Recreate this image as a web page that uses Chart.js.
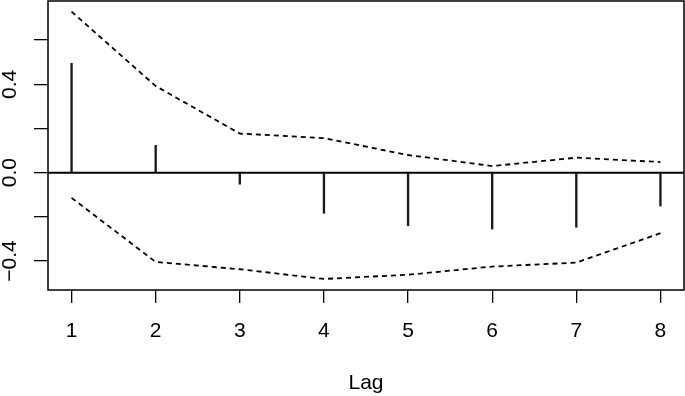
<!DOCTYPE html>
<html>
<head>
<meta charset="utf-8">
<script src="https://cdn.jsdelivr.net/npm/chart.js@4"></script>
<style>
  html, body { margin: 0; padding: 0; background: #fff; }
  canvas { display: block; }
</style>
</head>
<body>
<canvas id="acf" width="685" height="396"></canvas>
<script>
// lags on the x axis
const lags = [1, 2, 3, 4, 5, 6, 7, 8];
// autocorrelation spikes
const acfValues = [0.495, 0.124, -0.052, -0.184, -0.240, -0.255, -0.247, -0.151];
// dashed confidence bounds
const upperBound = [0.729, 0.392, 0.177, 0.156, 0.080, 0.030, 0.068, 0.048];
const lowerBound = [-0.114, -0.404, -0.437, -0.481, -0.462, -0.425, -0.407, -0.274];
// y ticks, only some get a label (like R drops overlapping ones)
const yTicks = [-0.4, -0.2, 0, 0.2, 0.4, 0.6];
const yTickLabels = ['\u22120.4', '', '0.0', '', '0.4', ''];
const xTickLabels = ['1', '2', '3', '4', '5', '6', '7', '8'];
const xTitle = 'Lag';

const FONT = "'Liberation Sans', Arial, sans-serif";
const pts = (arr) => lags.map((l, i) => ({ x: l, y: arr[i] }));

// box, zero line and rotated y labels
const rStyle = {
    id: 'rStyle',
    beforeDatasetsDraw(chart) {
        const { ctx, chartArea: a, scales: { y } } = chart;
        const y0 = y.getPixelForValue(0);
        ctx.save();
        ctx.strokeStyle = '#000';
        ctx.lineWidth = 2;
        ctx.beginPath();
        ctx.moveTo(a.left, y0);
        ctx.lineTo(a.right, y0);
        ctx.stroke();
        ctx.restore();
    },
    afterDraw(chart) {
        const { ctx, chartArea: a, scales: { y } } = chart;
        ctx.save();
        ctx.strokeStyle = '#000';
        ctx.lineWidth = 1.5;
        ctx.strokeRect(a.left, a.top, a.right - a.left, a.bottom - a.top);

        ctx.fillStyle = '#000';
        ctx.font = '21px ' + FONT;
        ctx.textAlign = 'center';
        ctx.textBaseline = 'middle';
        yTicks.forEach((v, i) => {
            if (!yTickLabels[i]) return;
            ctx.save();
            ctx.translate(10, y.getPixelForValue(v));
            ctx.rotate(-Math.PI / 2);
            ctx.fillText(yTickLabels[i], 0, 0);
            ctx.restore();
        });
        ctx.restore();
    }
};

const dashed = {
    type: 'line',
    borderColor: '#000',
    borderWidth: 1.8,
    borderDash: [5, 4],
    pointRadius: 0,
    tension: 0,
    fill: false
};

new Chart(document.getElementById('acf'), {
    data: {
        datasets: [
            Object.assign({ data: pts(upperBound) }, dashed),
            Object.assign({ data: pts(lowerBound) }, dashed),
            {
                type: 'bar',
                data: pts(acfValues),
                backgroundColor: '#1a1a1a',
                barThickness: 1.7,
                borderWidth: 0
            }
        ]
    },
    options: {
        responsive: false,
        animation: false,
        devicePixelRatio: 1,
        layout: { padding: { top: 1, right: 1, left: 0, bottom: 0 } },
        plugins: { legend: { display: false }, tooltip: { enabled: false } },
        scales: {
            x: {
                type: 'linear',
                offset: false,
                min: 0.72,
                max: 8.28,
                afterBuildTicks: (s) => { s.ticks = lags.map(v => ({ value: v })); },
                afterFit: (s) => { s.height = 106; },
                grid: { offset: false, drawOnChartArea: false, drawTicks: true, tickLength: 13, color: '#000', lineWidth: 1.3 },
                border: { display: false },
                ticks: {
                    color: '#000',
                    font: { family: FONT, size: 21 },
                    padding: 16,
                    maxRotation: 0,
                    autoSkip: false,
                    callback: (v, i) => xTickLabels[i]
                },
                title: {
                    display: true,
                    text: xTitle,
                    color: '#000',
                    font: { family: FONT, size: 21 },
                    padding: { top: 0, bottom: 0 }
                }
            },
            y: {
                type: 'linear',
                min: -0.531,
                max: 0.777,
                afterBuildTicks: (s) => { s.ticks = yTicks.map(v => ({ value: v })); },
                afterFit: (s) => { s.width = 48; },
                grid: { drawOnChartArea: false, drawTicks: true, tickLength: 14, color: '#000', lineWidth: 1.3 },
                border: { display: false },
                ticks: { display: false }
            }
        }
    },
    plugins: [rStyle]
});
</script>
</body>
</html>
